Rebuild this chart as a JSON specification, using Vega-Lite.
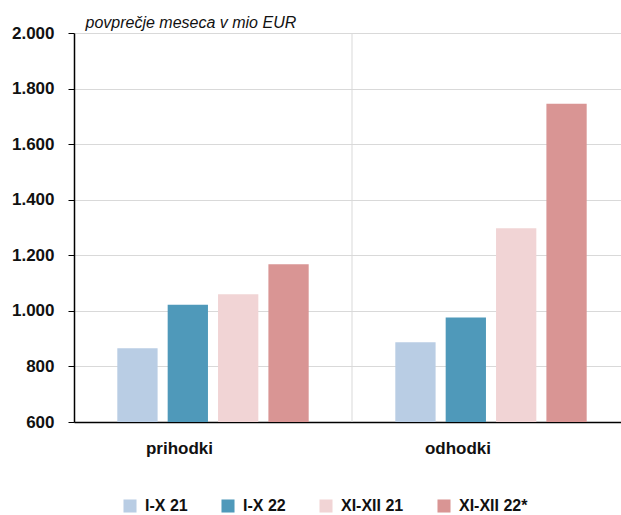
{
  "$schema": "https://vega.github.io/schema/vega-lite/v6.json",
  "autosize": "none",
  "width": 547,
  "height": 389,
  "padding": {"left": 74, "top": 33, "right": 0, "bottom": 93},
  "background": "white",
  "config": {
    "locale": {"number": {"decimal": ",", "thousands": ".", "grouping": [3], "currency": ["", " €"]}},
    "font": "Liberation Sans, Arial, sans-serif",
    "view": {"stroke": null}
  },
  "data": {
    "values": [
      {"kat": "prihodki", "obdobje": "I-X 21", "vrednost": 865},
      {"kat": "prihodki", "obdobje": "I-X 22", "vrednost": 1022},
      {"kat": "prihodki", "obdobje": "XI-XII 21", "vrednost": 1060},
      {"kat": "prihodki", "obdobje": "XI-XII 22*", "vrednost": 1168},
      {"kat": "odhodki", "obdobje": "I-X 21", "vrednost": 887},
      {"kat": "odhodki", "obdobje": "I-X 22", "vrednost": 976},
      {"kat": "odhodki", "obdobje": "XI-XII 21", "vrednost": 1297},
      {"kat": "odhodki", "obdobje": "XI-XII 22*", "vrednost": 1745}
    ]
  },
  "layer": [
    {
      "data": {"values": [{"kat": "odhodki"}]},
      "mark": {"type": "rule", "color": "#d9d9d9", "strokeWidth": 1},
      "encoding": {
        "x": {"field": "kat", "type": "nominal", "bandPosition": 0, "sort": ["prihodki", "odhodki"]}
      }
    },
    {
      "mark": {"type": "bar", "clip": true},
      "encoding": {
        "x": {
          "field": "kat", "type": "nominal", "sort": ["prihodki", "odhodki"],
          "scale": {"range": [0, 556], "paddingInner": 0, "paddingOuter": 0},
          "axis": {
            "title": null, "labelAngle": 0, "domainColor": "black", "domainWidth": 1.5,
            "ticks": false, "labelFontSize": 17, "labelColor": "#111", "labelPadding": 26,
            "labelFontWeight": "bold"
          }
        },
        "xOffset": {
          "field": "obdobje", "type": "nominal",
          "sort": ["I-X 21", "I-X 22", "XI-XII 21", "XI-XII 22*"],
          "scale": {"paddingInner": 0.2, "paddingOuter": 0.86}
        },
        "y": {
          "field": "vrednost", "type": "quantitative",
          "scale": {"domain": [600, 2000], "nice": false, "zero": false},
          "axis": {
            "values": [600, 800, 1000, 1200, 1400, 1600, 1800, 2000],
            "format": ",d",
            "title": "povprečje meseca v mio EUR",
            "titleAngle": 0, "titleAlign": "left", "titleBaseline": "alphabetic",
            "titleX": 11, "titleY": -6, "titleFontStyle": "italic", "titleFontWeight": "normal",
            "titleFontSize": 16, "titleColor": "#111",
            "labelFontSize": 17, "labelFontWeight": "bold", "labelColor": "#111", "labelPadding": 14,
            "tickColor": "black", "tickSize": 6, "domainColor": "black", "domainWidth": 1.5,
            "gridColor": "#d9d9d9", "gridWidth": 1
          }
        },
        "color": {
          "field": "obdobje", "type": "nominal",
          "sort": ["I-X 21", "I-X 22", "XI-XII 21", "XI-XII 22*"],
          "scale": {"range": ["#b9cde4", "#4f99ba", "#f1d4d5", "#d99594"]},
          "legend": {
            "title": null, "orient": "none", "direction": "horizontal",
            "legendX": 48, "legendY": 465,
            "symbolType": "square", "symbolSize": 170, "symbolStrokeWidth": 0,
            "labelFontSize": 16, "labelFontWeight": "bold", "labelColor": "#111",
            "columnPadding": 32, "labelOffset": 7
          }
        }
      }
    }
  ]
}
